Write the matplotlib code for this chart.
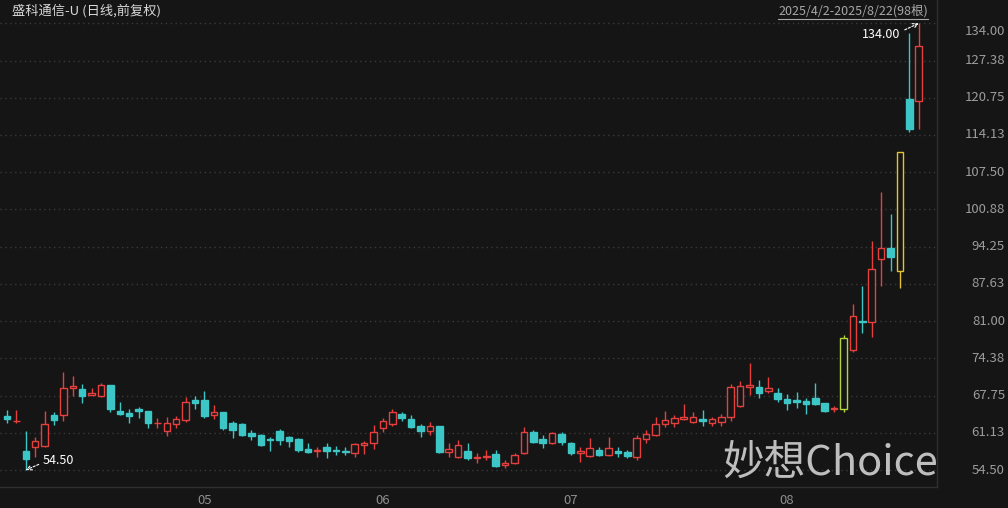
import matplotlib
matplotlib.use("Agg")
import matplotlib.pyplot as plt
import matplotlib.transforms as mtransforms
from matplotlib.patches import Rectangle
from matplotlib.lines import Line2D

plt.rcParams['font.family'] = ['Noto Sans CJK SC', 'DejaVu Sans']

title = "盛科通信-U (日线,前复权)"
date_range = "2025/4/2-2025/8/22(98根)"

opens = [64.1, 63.2, 57.9, 58.6, 58.8, 64.3, 64.3, 69.1, 68.9, 67.9,
         67.7, 69.6, 65.0, 64.7, 65.4, 65.0, 62.8, 61.4, 62.7, 63.4,
         67.0, 67.0, 64.3, 64.8, 62.9, 62.7, 61.1, 60.7, 60.0, 61.4,
         60.4, 60.0, 58.2, 57.8, 58.6, 58.1, 57.9, 57.5, 59.0, 59.3,
         62.0, 62.7, 64.5, 63.6, 62.3, 61.4, 62.3, 57.7, 56.8, 57.9,
         56.7, 56.75, 57.4, 55.4, 55.8, 57.5, 61.3, 60.0, 59.3, 60.9,
         59.3, 57.5, 57.0, 58.1, 57.2, 57.8, 57.7, 56.8, 60.0, 60.7,
         62.7, 62.9, 63.6, 63.1, 63.5, 62.9, 63.1, 63.9, 65.9, 69.3,
         69.3, 68.6, 68.2, 67.1, 67.0, 66.8, 67.3, 66.4, 65.3, 65.4,
         75.8, 81.1, 80.9, 92.1, 94.0, 89.9, 120.5, 120.2]
highs = [65.2, 65.2, 61.4, 60.4, 65.0, 64.8, 71.9, 71.2, 69.8, 69.1,
         70.0, 69.6, 66.6, 65.4, 65.7, 65.0, 63.8, 63.9, 64.1, 67.5,
         67.7, 68.6, 66.1, 64.8, 63.2, 62.9, 61.6, 60.9, 60.4, 61.8,
         60.6, 60.2, 59.3, 58.6, 59.3, 58.8, 58.6, 59.3, 59.7, 62.5,
         63.8, 65.4, 64.8, 64.3, 62.7, 63.0, 62.4, 59.3, 59.8, 59.3,
         57.5, 58.1, 58.1, 56.3, 57.5, 62.1, 61.6, 60.7, 61.3, 61.3,
         59.5, 58.6, 60.2, 58.6, 60.4, 58.6, 58.1, 60.7, 61.6, 63.9,
         65.0, 64.3, 66.3, 64.8, 65.2, 63.9, 64.5, 69.8, 70.3, 73.5,
         70.5, 71.1, 69.1, 68.0, 68.4, 67.3, 70.0, 66.5, 65.9, 78.6,
         84.0, 87.2, 95.3, 104.0, 100.1, 111.1, 132.3, 134.0]
lows = [62.9, 62.9, 54.5, 56.8, 58.6, 62.5, 63.2, 67.7, 66.4, 67.8,
        67.5, 64.8, 64.3, 62.9, 63.8, 62.0, 62.0, 60.6, 62.0, 63.0,
        65.4, 63.8, 63.6, 61.6, 60.2, 60.5, 59.8, 58.8, 57.9, 59.0,
        58.6, 57.7, 57.5, 56.8, 56.6, 57.2, 57.2, 56.8, 57.3, 58.2,
        61.3, 62.3, 63.2, 62.0, 60.4, 60.7, 57.5, 56.8, 56.7, 56.3,
        55.8, 56.3, 55.0, 54.9, 55.6, 57.3, 59.3, 58.4, 59.1, 59.0,
        57.2, 55.9, 56.8, 57.0, 57.0, 56.8, 56.6, 56.3, 59.3, 60.6,
        62.2, 62.2, 63.4, 62.9, 62.3, 62.3, 62.3, 63.2, 65.7, 67.9,
        67.3, 68.2, 66.6, 65.2, 65.5, 64.5, 66.1, 64.9, 64.8, 64.8,
        75.5, 78.9, 78.2, 87.2, 89.9, 86.9, 114.7, 115.2]
closes = [63.6, 63.3, 56.5, 59.7, 62.7, 63.4, 69.1, 69.5, 67.7, 68.2,
          69.6, 65.4, 64.5, 64.1, 65.0, 62.9, 62.9, 62.9, 63.6, 66.6,
          66.4, 64.1, 64.8, 62.0, 61.6, 60.7, 60.6, 59.0, 59.8, 59.8,
          59.7, 58.1, 57.7, 58.0, 57.9, 57.9, 57.7, 59.1, 59.3, 61.3,
          63.2, 64.8, 63.8, 62.2, 61.4, 62.3, 57.7, 58.2, 59.0, 56.6,
          56.8, 56.95, 55.2, 55.8, 57.2, 61.3, 59.5, 59.3, 61.1, 59.5,
          57.5, 57.9, 58.4, 57.2, 58.4, 57.6, 57.0, 60.2, 60.9, 62.7,
          63.4, 63.8, 63.9, 63.9, 63.3, 63.6, 63.9, 69.3, 69.5, 69.6,
          68.2, 69.1, 67.1, 66.4, 66.6, 66.3, 66.3, 65.0, 65.5, 78.0,
          81.9, 80.9, 90.3, 94.0, 92.4, 111.1, 115.2, 130.0]

# limit-up days highlighted by the terminal (index -> kind)
limit_up_days = {89: "first", 95: "second"}

y_ticks = [54.50, 61.13, 67.75, 74.38, 81.00, 87.63, 94.25,
           100.88, 107.50, 114.13, 120.75, 127.38, 134.00]
y_tick_labels = ["54.50", "61.13", "67.75", "74.38", "81.00", "87.63", "94.25",
                 "100.88", "107.50", "114.13", "120.75", "127.38", "134.00"]
month_start_idx = [20, 39, 59, 82]
month_labels = ["05", "06", "07", "08"]
max_idx, max_val = 97, 134.00
min_idx, min_val = 2, 54.50

BG = "#151515"
RED = "#e5403e"
CYAN = "#3cc6c6"
SPECIAL = {"first": "#b5d33c", "second": "#e6c22e"}
GRID = "#3a3a3a"
AXCOL = "#2f2f2f"

W, H = 1008, 508
fig = plt.figure(figsize=(W / 100, H / 100), dpi=100, facecolor=BG)
ax = fig.add_axes([0, 1 - 487 / H, 937 / W, 487 / H])
ax.set_facecolor(BG)
ax.set_xlim(-0.745, 98.94)
ax.set_ylim(51.48, 138.15)
for s in ["left", "top"]:
    ax.spines[s].set_visible(False)
for s in ["bottom", "right"]:
    ax.spines[s].set_color(AXCOL)
    ax.spines[s].set_linewidth(1)
ax.set_xticks([])
ax.set_yticks([])

for t in y_ticks:
    ax.axhline(t, color=GRID, lw=1, ls=(0, (1, 2.5)), zorder=0)

w = 0.7
for i, (o, h, l, c) in enumerate(zip(opens, highs, lows, closes)):
    up = c >= o
    col = RED if up else CYAN
    if i in limit_up_days:
        col = SPECIAL[limit_up_days[i]]
    ax.vlines(i, l, h, color=col, lw=1, zorder=2)
    if up:
        ax.add_patch(Rectangle((i - w / 2, o), w, max(c - o, 0.05), facecolor=BG,
                               edgecolor=col, lw=1, zorder=3))
    else:
        ax.add_patch(Rectangle((i - w / 2, c), w, max(o - c, 0.05), facecolor=col,
                               edgecolor=col, lw=1, zorder=3))

# right axis labels
btr = mtransforms.blended_transform_factory(fig.transFigure, ax.transData)
for t, lab in zip(y_ticks, y_tick_labels):
    tr = btr
    if t == y_ticks[-1]:
        tr = btr + mtransforms.ScaledTranslation(0, -8 / 100, fig.dpi_scale_trans)
    fig.text(1005 / W, t, lab, transform=tr, ha="right", va="center",
             color="#9c9c9c", fontsize=9.5)

# month labels
mtr = mtransforms.blended_transform_factory(ax.transData, fig.transFigure) + \
    mtransforms.ScaledTranslation(2 / 100, 0, fig.dpi_scale_trans)
for idx, lab in zip(month_start_idx, month_labels):
    ax.text(idx, 1 - 500 / H, lab, transform=mtr, ha="left", va="center",
            color="#8e8e8e", fontsize=9.5, clip_on=False)

# title and date range
fig.text(12 / W, 1 - 11 / H, title, ha="left", va="center", color="#d8d8d8", fontsize=9.5)
dt = fig.text(928 / W, 1 - 11 / H, date_range, ha="right", va="center",
              color="#a8a8a8", fontsize=9)
fig.canvas.draw()
bb = dt.get_window_extent()
fig.add_artist(Line2D([bb.x0 / W, bb.x1 / W], [(H - 19) / H, (H - 19) / H],
                      transform=fig.transFigure, color="#a8a8a8", lw=0.8))

# max / min annotations
ax.annotate(f"{max_val:.2f}", xy=(max_idx, max_val), xytext=(-18, -11),
            textcoords="offset pixels", ha="right", va="center", color="white",
            fontsize=9, annotation_clip=False,
            arrowprops=dict(arrowstyle="->", color="white", lw=0.8,
                            linestyle=(0, (2, 1.5)), shrinkA=1, shrinkB=0,
                            relpos=(1, 0.7)))
ax.annotate(f"{min_val:.2f}", xy=(min_idx, min_val), xytext=(17, 10),
            textcoords="offset pixels", ha="left", va="center", color="white",
            fontsize=9, annotation_clip=False,
            arrowprops=dict(arrowstyle="->", color="white", lw=0.8,
                            linestyle=(0, (2, 1.5)), shrinkA=1, shrinkB=0,
                            relpos=(0, 0.3)))

# watermark
fig.text(722 / W, 1 - 463 / H, "妙想Choice", ha="left", va="center",
         color="#d2d2d2", alpha=0.9, fontsize=30)

fig.savefig("out.png", dpi=100, facecolor=BG)
